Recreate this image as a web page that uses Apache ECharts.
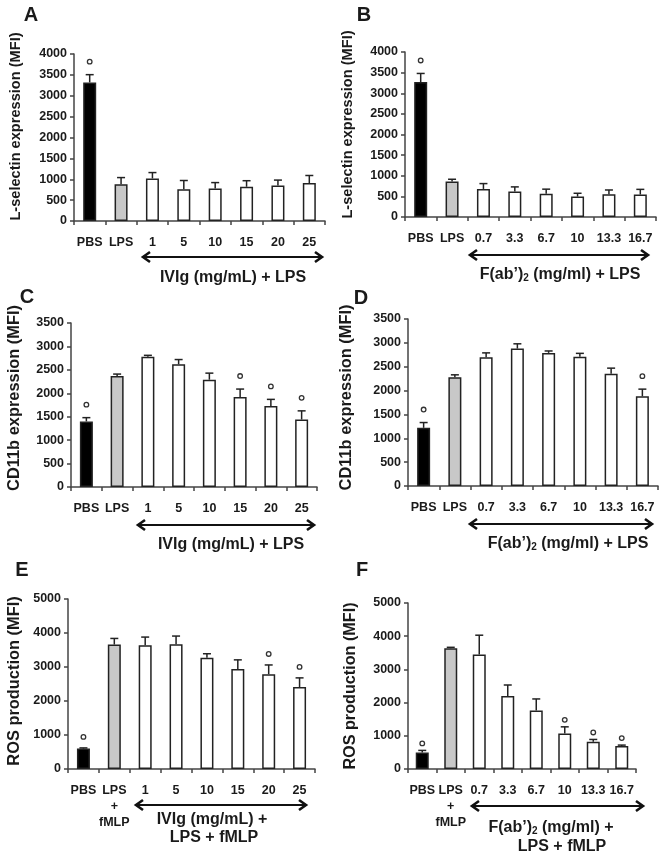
<!DOCTYPE html>
<html>
<head>
<meta charset="utf-8">
<script src="https://cdn.jsdelivr.net/npm/echarts@6/dist/echarts.min.js"></script>
<style>
  html, body { margin: 0; padding: 0; background: #fff; }
  #chart { width: 662px; height: 854px; }
</style>
</head>
<body>
<div id="chart"></div>
<script>
// categories
const catsIVIg = ['PBS', 'LPS', '1', '5', '10', '15', '20', '25'];
const catsFab = ['PBS', 'LPS', '0.7', '3.3', '6.7', '10', '13.3', '16.7'];
const catsIVIgRos = ['PBS', 'LPS\n+\nfMLP', '1', '5', '10', '15', '20', '25'];
const catsFabRos = ['PBS', 'LPS\n+\nfMLP', '0.7', '3.3', '6.7', '10', '13.3', '16.7'];

// A: L-selectin, IVIg
const lselIVIg = [3320, 880, 1020, 760, 780, 820, 850, 910];
const lselIVIgErr = [185, 160, 140, 210, 140, 145, 130, 180];
const lselIVIgSig = [1, 0, 0, 0, 0, 0, 0, 0];
// B: L-selectin, F(ab')2
const lselFab = [3270, 860, 680, 620, 565, 495, 550, 545];
const lselFabErr = [210, 55, 130, 110, 110, 80, 105, 125];
const lselFabSig = [1, 0, 0, 0, 0, 0, 0, 0];
// C: CD11b, IVIg
const cd11bIVIg = [1400, 2370, 2780, 2620, 2290, 1920, 1730, 1440];
const cd11bIVIgErr = [80, 40, 30, 100, 140, 170, 140, 185];
const cd11bIVIgSig = [1, 0, 0, 0, 0, 1, 1, 1];
// D: CD11b, F(ab')2
const cd11bFab = [1220, 2280, 2700, 2880, 2790, 2710, 2350, 1880];
const cd11bFabErr = [110, 50, 90, 100, 40, 70, 120, 150];
const cd11bFabSig = [1, 0, 0, 0, 0, 0, 0, 1];
// E: ROS, IVIg
const rosIVIg = [600, 3660, 3640, 3670, 3270, 2940, 2790, 2410];
const rosIVIgErr = [20, 180, 240, 240, 120, 270, 270, 270];
const rosIVIgSig = [1, 0, 0, 0, 0, 0, 1, 1];
// F: ROS, F(ab')2
const rosFab = [500, 3640, 3450, 2200, 1760, 1070, 820, 690];
const rosFabErr = [60, 25, 580, 330, 350, 200, 70, 30];
const rosFabSig = [1, 0, 0, 0, 0, 1, 1, 1];

const barFills = ['#000000', '#c8c8c8', '#ffffff', '#ffffff', '#ffffff', '#ffffff', '#ffffff', '#ffffff'];

const FONT = '"Liberation Sans", Arial, sans-serif';
const INK = '#1a1a1a';

const panels = [
  { cats: catsIVIg, vals: lselIVIg, errs: lselIVIgErr, sig: lselIVIgSig, max: 4000, step: 500,
    name: 'L-selectin expression (MFI)', nameSize: 14.6, shift: 22,
    grid: { left: 74, top: 54, width: 251, height: 167 }, gap: 51, dot: 13 },
  { cats: catsFab, vals: lselFab, errs: lselFabErr, sig: lselFabSig, max: 4000, step: 500,
    name: 'L-selectin expression (MFI)', nameSize: 14.6, shift: 20,
    grid: { left: 405, top: 52, width: 251, height: 165 }, gap: 50, dot: 13 },
  { cats: catsIVIg, vals: cd11bIVIg, errs: cd11bIVIgErr, sig: cd11bIVIgSig, max: 3500, step: 500,
    name: 'CD11b expression (MFI)', nameSize: 16.4, shift: 14,
    grid: { left: 71, top: 323, width: 246, height: 164 }, gap: 49, dot: 13 },
  { cats: catsFab, vals: cd11bFab, errs: cd11bFabErr, sig: cd11bFabSig, max: 3500, step: 500,
    name: 'CD11b expression (MFI)', nameSize: 16.4, shift: 10,
    grid: { left: 408, top: 319, width: 250, height: 167 }, gap: 54, dot: 13 },
  { cats: catsIVIgRos, vals: rosIVIg, errs: rosIVIgErr, sig: rosIVIgSig, max: 5000, step: 1000,
    name: 'ROS production (MFI)', nameSize: 16.4, shift: 6,
    grid: { left: 68, top: 599, width: 247, height: 170 }, gap: 46, dot: 11 },
  { cats: catsFabRos, vals: rosFab, errs: rosFabErr, sig: rosFabSig, max: 5000, step: 1000,
    name: 'ROS production (MFI)', nameSize: 16.2, shift: 0,
    grid: { left: 408, top: 603, width: 228, height: 166 }, gap: 49, dot: 7 }
];

const axisLine = { show: true, lineStyle: { color: '#444', width: 1.5 } };

const grids = [], xAxes = [], yAxes = [], series = [];
panels.forEach((p, i) => {
  grids.push(p.grid);
  xAxes.push({
    type: 'category', gridIndex: i, data: p.cats,
    axisLine: axisLine,
    axisTick: { show: true, length: 4, lineStyle: { color: '#444', width: 1.5 } },
    axisLabel: { interval: 0, margin: 14, color: INK, fontFamily: FONT, fontWeight: 'bold', fontSize: 12.5, lineHeight: 16 }
  });
  yAxes.push({
    type: 'value', gridIndex: i, min: 0, max: p.max, interval: p.step,
    name: p.name, nameLocation: 'middle', nameGap: p.gap,
    nameTextStyle: { color: INK, fontFamily: FONT, fontWeight: 'bold', fontSize: p.nameSize,
      padding: [0, 0, 0, p.shift] },
    axisLine: axisLine,
    axisTick: { show: true, length: 4, lineStyle: { color: '#444', width: 1.5 } },
    splitLine: { show: false },
    axisLabel: { margin: 7, color: INK, fontFamily: FONT, fontWeight: 'bold', fontSize: 12.5,
      formatter: v => String(v) }
  });
  series.push({
    type: 'bar', xAxisIndex: i, yAxisIndex: i, barWidth: 13,
    data: p.vals.map((v, k) => ({ value: v, itemStyle: { color: barFills[k] } })),
    itemStyle: { borderColor: '#222', borderWidth: 1.5 },
    silent: true
  });
  series.push({
    type: 'custom', xAxisIndex: i, yAxisIndex: i, z: 5, silent: true,
    data: p.vals.map((v, k) => [k, v, p.errs[k], p.sig[k]]),
    renderItem: (params, api) => {
      const base = api.coord([api.value(0), api.value(1)]);
      const top = api.coord([api.value(0), api.value(1) + api.value(2)]);
      const st = { stroke: '#222', lineWidth: 1.5 };
      const kids = [
        { type: 'line', shape: { x1: base[0], y1: base[1], x2: top[0], y2: top[1] }, style: st },
        { type: 'line', shape: { x1: top[0] - 4, y1: top[1], x2: top[0] + 4, y2: top[1] }, style: st }
      ];
      if (api.value(3)) {
        kids.push({ type: 'circle', shape: { cx: top[0], cy: top[1] - p.dot, r: 2.3 },
          style: { fill: '#fff', stroke: '#333', lineWidth: 1.3 } });
      }
      return { type: 'group', children: kids };
    }
  });
});

function txt(s, x, y, size) {
  return {
    type: 'text', silent: true,
    style: { text: s, x: x, y: y, fill: INK, font: 'bold ' + size + 'px ' + FONT,
      textAlign: 'center', textVerticalAlign: 'middle' }
  };
}
function fabText(s, x, y) {
  return {
    type: 'text', silent: true,
    style: {
      text: '{n|F(ab’)}{s|2}{n|' + s + '}', x: x, y: y, fill: INK,
      textAlign: 'center', textVerticalAlign: 'middle',
      rich: {
        n: { fill: INK, font: 'bold 16px ' + FONT, lineHeight: 18, verticalAlign: 'bottom' },
        s: { fill: INK, font: 'bold 10px ' + FONT, lineHeight: 10, verticalAlign: 'bottom' }
      }
    }
  };
}
function arrow(x1, x2, y) {
  const s = { stroke: '#111', lineWidth: 2, fill: null };
  const h = { stroke: '#111', lineWidth: 2.6, fill: null, lineJoin: 'miter' };
  return [
    { type: 'line', silent: true, shape: { x1: x1 + 2, y1: y, x2: x2 - 2, y2: y }, style: s },
    { type: 'polyline', silent: true, shape: { points: [[x1 + 8, y - 5], [x1 + 1, y], [x1 + 8, y + 5]] }, style: h },
    { type: 'polyline', silent: true, shape: { points: [[x2 - 8, y - 5], [x2 - 1, y], [x2 - 8, y + 5]] }, style: h }
  ];
}

const graphic = [
  txt('A', 31, 15, 20), txt('B', 364, 15, 20), txt('C', 27, 297, 20),
  txt('D', 361, 298, 20), txt('E', 22, 570, 20), txt('F', 362, 570, 20),
  txt('IVIg (mg/mL) + LPS', 233, 278, 16),
  fabText(' (mg/ml) + LPS', 560, 274),
  txt('IVIg (mg/mL) + LPS', 231, 545, 16),
  fabText(' (mg/ml) + LPS', 568, 543),
  txt('IVIg (mg/mL) +', 212, 820, 16),
  txt('LPS + fMLP', 214, 838, 16),
  fabText(' (mg/ml) +', 551, 827),
  txt('LPS + fMLP', 562, 847, 16)
].concat(arrow(142, 323, 257), arrow(469, 649, 255), arrow(137, 315, 525),
         arrow(469, 653, 524), arrow(135, 307, 805), arrow(471, 644, 806));

const chart = echarts.init(document.getElementById('chart'), null, { renderer: 'canvas' });
chart.setOption({
  animation: false,
  backgroundColor: '#fff',
  grid: grids,
  xAxis: xAxes,
  yAxis: yAxes,
  series: series,
  graphic: graphic
});
</script>
</body>
</html>
